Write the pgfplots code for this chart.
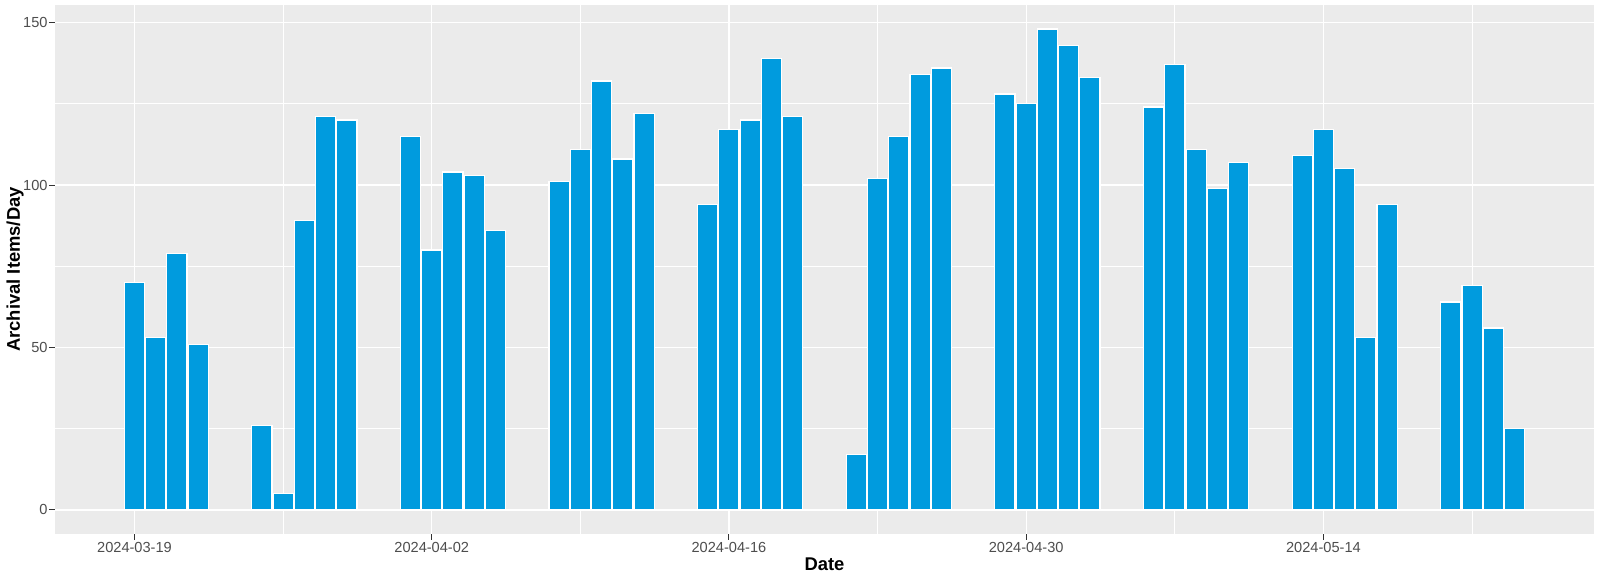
\documentclass[border=0pt]{standalone}
\usepackage{pgfplots}
\pgfplotsset{compat=1.18}
\usepackage{fontspec}
\setmainfont{Liberation Sans}
\definecolor{barblue}{RGB}{0,155,222}
\definecolor{panelgrey}{RGB}{235,235,235}
\definecolor{ticktext}{RGB}{77,77,77}
\definecolor{tickmark}{RGB}{51,51,51}
% x = days since 2024-03-19
\pgfplotstableread{
day value
0 70
1 53
2 79
3 51
6 26
7 5
8 89
9 121
10 120
13 115
14 80
15 104
16 103
17 86
20 101
21 111
22 132
23 108
24 122
27 94
28 117
29 120
30 139
31 121
34 17
35 102
36 115
37 134
38 136
41 128
42 125
43 148
44 143
45 133
48 124
49 137
50 111
51 99
52 107
55 109
56 117
57 105
58 53
59 94
62 64
63 69
64 56
65 25
}\archival
\begin{document}
\begin{tikzpicture}
\begin{axis}[
  scale only axis, width=769.5pt, height=264.5pt,
  xmin=-3.745, xmax=68.745, ymin=-7.4, ymax=155.4,
  axis background/.style={fill=panelgrey},
  axis line style={draw=none},
  xtick={0,14,28,42,56},
  xticklabels={2024-03-19,2024-04-02,2024-04-16,2024-04-30,2024-05-14},
  minor xtick={7,21,35,49,63},
  ytick={0,50,100,150}, minor ytick={25,75,125},
  grid=both,
  major grid style={white, line width=0.65pt},
  minor grid style={white, line width=0.35pt},
  tick align=outside,
  major tick length=3pt, minor tick length=0pt,
  xtick pos=bottom, ytick pos=left,
  tick style={tickmark, line width=0.5pt},
  /pgf/number format/assume math mode=true,
  tick label style={font=\fontsize{7.3}{8.3}\selectfont, text=ticktext, inner sep=0pt},
  xticklabel style={anchor=north},
  yticklabel style={anchor=east},
  xticklabel shift=0.85pt, yticklabel shift=0.5pt,
  xlabel={Date}, ylabel={Archival Items/Day},
  label style={font=\fontsize{9.2}{10}\selectfont\bfseries, text=black},
  xlabel style={at={([yshift=-18.5pt]axis description cs:0.5,0)}, anchor=base},
  ylabel style={at={([xshift=-17.5pt]axis description cs:0,0.5)}, anchor=base},
]
\addplot[ybar, bar width=0.95, fill=barblue, draw=white, line width=0.6pt] table[x=day, y=value] {\archival};
\end{axis}
\pgfresetboundingbox
\path ([xshift=-27.5pt,yshift=-23pt]current axis.south west) rectangle ([xshift=3pt,yshift=2.5pt]current axis.north east);
\end{tikzpicture}
\end{document}
